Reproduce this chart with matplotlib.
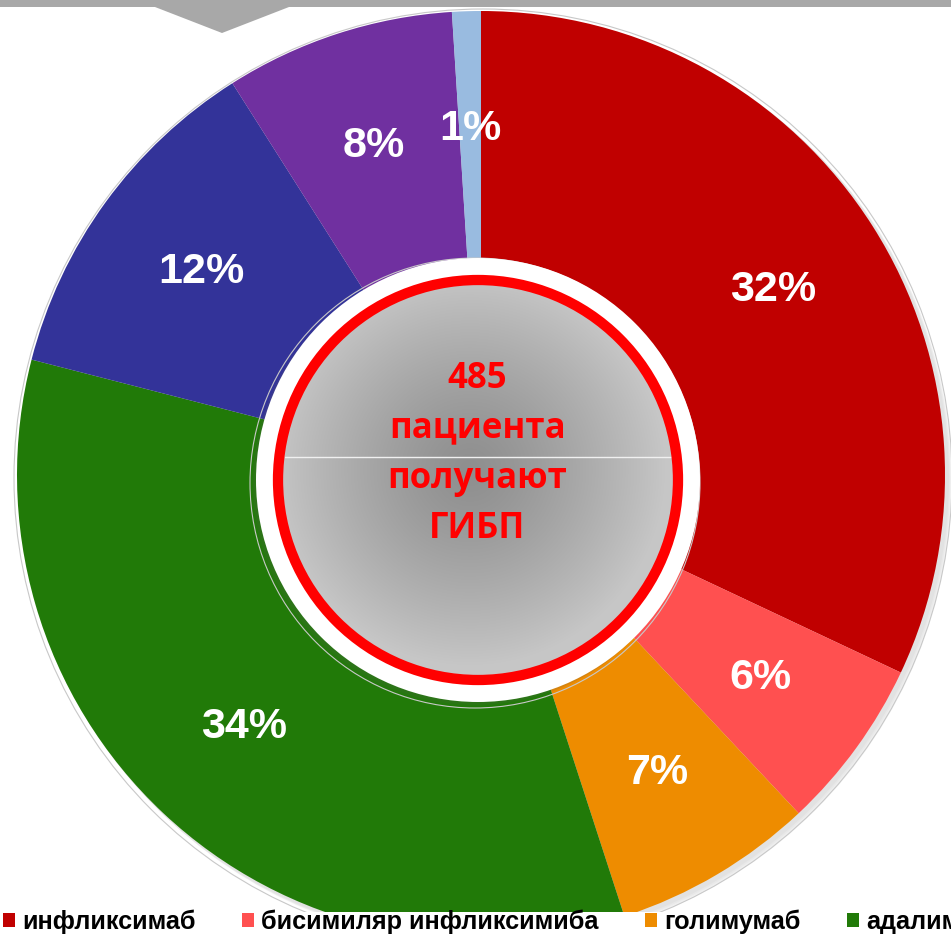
import numpy as np
import matplotlib
matplotlib.use("Agg")
import matplotlib.pyplot as plt
from matplotlib.patches import Circle, Rectangle, Polygon

# ---- data ----
labels = ["инфликсимаб", "бисимиляр инфликсимиба", "голимумаб", "адалимумаб",
          "цертолизумаба пэгол", "ведолизумаб", "устекинумаб"]
values = [32, 6, 7, 34, 12, 8, 1]
colors = ["#C00000", "#FF5050", "#EE8C00", "#217A08", "#333399", "#7030A0", "#99BBE0"]
center_lines = ["485", "пациента", "получают", "ГИБП"]

W, H = 951, 935
fig = plt.figure(figsize=(W / 100, H / 100), dpi=100)
ax = fig.add_axes([0, 0, 1, 1])

def Y(y):  # image-row to data y
    return H - y

pcx, pcy, pr = 481, Y(475), 464

for i, a in enumerate([0.05, 0.05, 0.06, 0.07]):
    ax.add_patch(Circle((pcx + 3 + i, pcy - 3 - i), pr + 1, color="#808080",
                        alpha=a, lw=0, zorder=1))
ax.add_patch(Circle((pcx + 2, pcy - 3), pr + 5, fill=False, ec="#c8c8c8",
                    lw=0.8, zorder=1))

wedges, texts, autotexts = ax.pie(
    values, colors=colors, startangle=90, counterclock=False,
    radius=pr, center=(pcx, pcy), frame=True,
    autopct="%.0f%%", pctdistance=0.745,
    wedgeprops=dict(linewidth=0, zorder=2),
    textprops=dict(color="white", fontsize=31, fontweight="bold",
                   family=["Liberation Sans", "DejaVu Sans"]))
for t in autotexts:
    t.set_zorder(10)

icx, icy = 478, Y(480)
for i, a in enumerate([0.06, 0.07, 0.08]):
    ax.add_patch(Circle((icx - 2 - i, icy - 2 - i), 222, color="#606060",
                        alpha=a, lw=0, zorder=3))
ax.add_patch(Circle((icx - 3, icy - 3), 225, fill=False, ec="#c8c8c8",
                    lw=0.8, zorder=3))
ax.add_patch(Circle((icx, icy), 222, color="white", lw=0, zorder=4))

gr = 198
xs = np.linspace(icx - gr, icx + gr, 300)
ys = np.linspace(icy - gr, icy + gr, 300)
XX, YY = np.meshgrid(xs, ys)
dist = np.sqrt((XX - (icx - 8)) ** 2 + (YY - (icy + 10)) ** 2) / gr
shade = 0.56 + 0.22 * np.clip(dist, 0, 1) ** 1.3
img = ax.imshow(np.dstack([shade, shade, shade]), extent=(icx - gr, icx + gr, icy - gr, icy + gr),
                origin="lower", zorder=5, interpolation="bilinear")
img.set_clip_path(Circle((icx, icy), gr, transform=ax.transData))

ax.plot([icx - 193, icx + 193], [Y(457), Y(457)], color="#f0f0f0", lw=1.0, zorder=6)
ax.add_patch(Circle((icx, icy), 200, fill=False, ec="#FF0000", lw=7.4, zorder=7))

baselines = [388, 437, 488, 538]
for txt, b in zip(center_lines, baselines):
    ax.text(477.5, Y(b), txt, color="#FF0000", fontsize=25, fontweight="bold",
            ha="center", va="baseline", family=["Open Sans", "DejaVu Sans"], zorder=11)

ax.add_patch(Rectangle((0, Y(7)), W, 7, color="#a8a8a8", lw=0, zorder=12))
ax.add_patch(Polygon([(155, Y(7)), (289, Y(7)), (222, Y(33))], closed=True,
                     color="#a8a8a8", lw=0, zorder=12))

ax.add_patch(Rectangle((0, 0), W, Y(912), color="white", lw=0, zorder=13))

lsize = 18.2
lprop = dict(family=["Liberation Sans", "DejaVu Sans"], weight="bold", size=lsize)
leg = ax.legend(wedges, labels, loc="lower left", bbox_to_anchor=(3 / W, 1 / H),
                ncol=7, frameon=False, borderaxespad=0, borderpad=0,
                handlelength=0.47, handleheight=0.47,
                handletextpad=0.28, columnspacing=1.85, prop=lprop)
leg.set_zorder(20)

ax.set_xlim(0, W)
ax.set_ylim(0, H)
ax.set_aspect("auto")
ax.axis("off")
fig.savefig("out.png", dpi=100)
